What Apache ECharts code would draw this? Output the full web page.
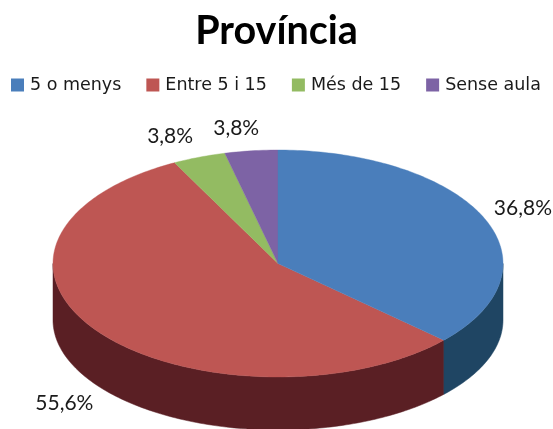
<!DOCTYPE html>
<html><head><meta charset="utf-8">
<style>html,body{margin:0;padding:0;background:#fff}#c{width:553px;height:429px}</style>
<script src="https://cdn.jsdelivr.net/npm/echarts@6/dist/echarts.min.js"></script>
</head><body><div id="c"></div>
<script>
var categories = ['5 o menys', 'Entre 5 i 15', 'Més de 15', 'Sense aula'];
var values = [36.8, 55.6, 3.8, 3.8];
var topColors = ['#4A7EBB', '#BE5653', '#93BB62', '#7D63A5'];
var sideColors = ['#1F4563', '#5A1F24', '#4F6A2C', '#43305F'];

var pie = {cx: 278, cy: 263.5, rx: 225, ry: 113.5, baseCy: 320, baseRy: 110};
var labelOffsets = [[39, -10], [-35, 71], [-29, -21], [-15, -23]];

var chart = echarts.init(document.getElementById('c'), null, {renderer: 'canvas'});
var total = values.reduce(function (a, b) { return a + b; }, 0);

function pt(deg, base) {
  var t = deg * Math.PI / 180;
  var cy = base ? pie.baseCy : pie.cy, ry = base ? pie.baseRy : pie.ry;
  return [pie.cx + pie.rx * Math.sin(t), cy - ry * Math.cos(t)];
}
function arc(a, b, base) {
  var out = [], n = Math.max(2, Math.ceil(Math.abs(b - a)));
  for (var i = 0; i <= n; i++) out.push(pt(a + (b - a) * i / n, base));
  return out;
}
function renderSlice(index) {
  return function (params, api) {
    var a = api.value(0), b = api.value(1), v = api.value(2);
    var children = [];
    var s = Math.max(a, 90), e = Math.min(b, 270);
    if (e > s) {
      children.push({type: 'polygon', z2: 1,
        shape: {points: arc(s, e, false).concat(arc(e, s, true))},
        style: {fill: sideColors[index], stroke: sideColors[index], lineWidth: 0.5}});
    }
    children.push({type: 'polygon', z2: 2,
      shape: {points: [[pie.cx, pie.cy]].concat(arc(a, b, false))},
      style: {fill: topColors[index], stroke: topColors[index], lineWidth: 0.4}});
    var p = pt((a + b) / 2, false), off = labelOffsets[index];
    children.push({type: 'text', z2: 3,
      style: {x: p[0] + off[0], y: p[1] + off[1], text: v.toFixed(1).replace('.', ',') + '%',
        fill: '#1a1a1a', font: '21px Lato', align: 'center', verticalAlign: 'middle'}});
    return {type: 'group', children: children};
  };
}

var acc = 0;
var series = categories.map(function (name, i) {
  var start = acc / total * 360; acc += values[i];
  return {type: 'custom', name: name, coordinateSystem: 'none', silent: true,
    renderItem: renderSlice(i), data: [[start, acc / total * 360, values[i]]],
    itemStyle: {color: topColors[i]}, z: i === 0 ? 3 : 2};
});

chart.setOption({
  animation: false,
  color: topColors,
  title: {text: 'Província', left: 'center', top: 6,
    textStyle: {fontFamily: 'Lato', fontWeight: 'bold', fontSize: 39.5, color: '#000'}},
  legend: {left: 6, top: 71, icon: 'rect', itemWidth: 13, itemHeight: 13, itemGap: 25,
    data: categories,
    textStyle: {fontFamily: 'DejaVu Sans', fontSize: 17.5, color: '#1a1a1a', padding: [0, 0, 0, 1]}},
  series: series
});
</script></body></html>
